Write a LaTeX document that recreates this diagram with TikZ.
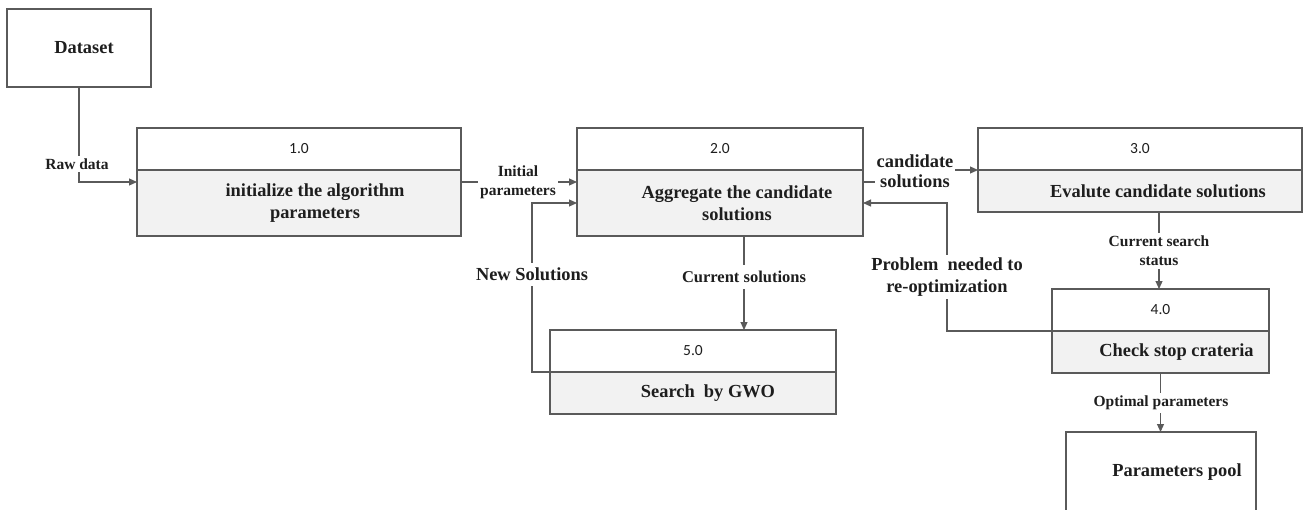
\documentclass[tikz,border=0pt]{standalone}
\usepackage{fontspec}
\setmainfont{Liberation Serif}
\newfontfamily\numfont{Carlito}
\usetikzlibrary{positioning,arrows.meta}
\definecolor{linegray}{HTML}{5A5A5A}
\definecolor{procfill}{HTML}{F2F2F2}
\definecolor{inkblack}{HTML}{1E1E1E}

\begin{document}
\begin{tikzpicture}[x=1pt,y=-1pt,line width=1.1pt]
    % `numbox' is the white upper half of a process (its number).
    % `procbox' is the grey lower half, `store' is used for data stores.
    % `flowlbl' is the text that sits on a data flow.
    \tikzstyle{numbox} = [draw=linegray,fill=white,inner sep=0pt,outer sep=0pt,minimum height=42pt,text=inkblack,font=\numfont\fontsize{15.5}{18}\selectfont]
    \tikzstyle{procbox} = [draw=linegray,fill=procfill,inner sep=0pt,outer sep=0pt]
    \tikzstyle{store} = [draw=linegray,fill=white,inner sep=0pt,outer sep=0pt]
    \tikzstyle{bigtext} = [text=inkblack,align=center,font=\bfseries\fontsize{18.4}{22}\selectfont]
    \tikzstyle{flowlbl} = [fill=white,inner xsep=2pt,inner ysep=3pt,text=inkblack,align=center,font=\bfseries\fontsize{15.5}{19}\selectfont]
    \tikzstyle{flow} = [draw=linegray,-{Triangle[length=8pt,width=7pt]}]
    %
    \path[use as bounding box,fill=white] (0,0) rectangle (1303,509);
    \clip (0,0) rectangle (1303,509);
    % Data stores.
    \node[store,minimum width=144pt,minimum height=78pt,anchor=north west,label={[bigtext,xshift=5pt]center:Dataset}] (data) at (7,9) {};
    \node[store,minimum width=190pt,minimum height=80pt,anchor=north west,label={[bigtext,xshift=16pt]center:Parameters pool}] (pool) at (1066,432) {};
    % Processes.
    \node[numbox,minimum width=324pt,anchor=north west] (p1n) at (137,128) {1.0};
    \node[procbox,minimum width=324pt,minimum height=66pt,below=0pt of p1n,label={[bigtext,xshift=16pt]center:{initialize the algorithm\\parameters}}] (p1) {};
    \node[numbox,minimum width=286pt,anchor=north west] (p2n) at (577,128) {2.0};
    \node[procbox,minimum width=286pt,minimum height=66pt,below=0pt of p2n,label={[bigtext,xshift=17pt]center:{Aggregate the candidate\\solutions}}] (p2) {};
    \node[numbox,minimum width=324pt,anchor=north west] (p3n) at (978,128) {3.0};
    \node[procbox,minimum width=324pt,minimum height=42pt,below=0pt of p3n,label={[bigtext,xshift=18pt]center:Evalute candidate solutions}] (p3) {};
    \node[numbox,minimum width=217pt,anchor=north west] (p4n) at (1052,289) {4.0};
    \node[procbox,minimum width=217pt,minimum height=42pt,below=0pt of p4n,label={[bigtext,xshift=16pt]center:Check stop crateria}] (p4) {};
    \node[numbox,minimum width=286pt,anchor=north west] (p5n) at (550,330) {5.0};
    \node[procbox,minimum width=286pt,minimum height=42pt,below=0pt of p5n,label={[bigtext,xshift=15pt]center:Search\ \ by GWO}] (p5) {};
    % Data flows.
    \draw[flow] (data.south) |- ([yshift=-12pt]p1.north west);
    \draw[flow] ([yshift=-12pt]p1.north east) -- ([yshift=-12pt]p2.north west);
    \draw[flow] (p5.north west) -- ++(-18,0) |- ([yshift=-33pt]p2.north west);
    \draw[flow] ([xshift=24pt]p2.south) -- ([xshift=24pt]p2.south |- p5n.north);
    \draw[flow] ([yshift=-12pt]p2.north east) -- ++(52,0) |- (p3n.south west);
    \draw[flow] (p4.north west) -- ++(-105,0) |- ([yshift=-33pt]p2.north east);
    \draw[flow] ([xshift=19pt]p3.south) -- ([xshift=19pt]p3.south |- p4n.north);
    \draw[flow] (p4.south) -- (p4.south |- pool.north);
    % Flow labels.
    \node[flowlbl] (rawlbl) at (77,164) {Raw data};
    \node[flowlbl] (initlbl) at (518,182) {Initial\\parameters};
    \node[flowlbl,font=\bfseries\fontsize{18.4}{22}\selectfont,inner ysep=5pt] (newlbl) at (532,274) {New Solutions};
    \node[flowlbl,font=\bfseries\fontsize{16.5}{20}\selectfont,inner ysep=6pt] (curlbl) at (744,277) {Current solutions};
    \node[flowlbl,font=\bfseries\fontsize{18.4}{20}\selectfont] (candlbl) at (915,171) {candidate\\solutions};
    \node[flowlbl,font=\bfseries\fontsize{18.4}{22}\selectfont] (problbl) at (947,277) {Problem\ \ needed to\\re-optimization};
    \node[flowlbl] (statlbl) at (1159,251) {Current search\\status};
    \node[flowlbl] (optlbl) at (1161,403) {Optimal parameters};
\end{tikzpicture}
\end{document}
